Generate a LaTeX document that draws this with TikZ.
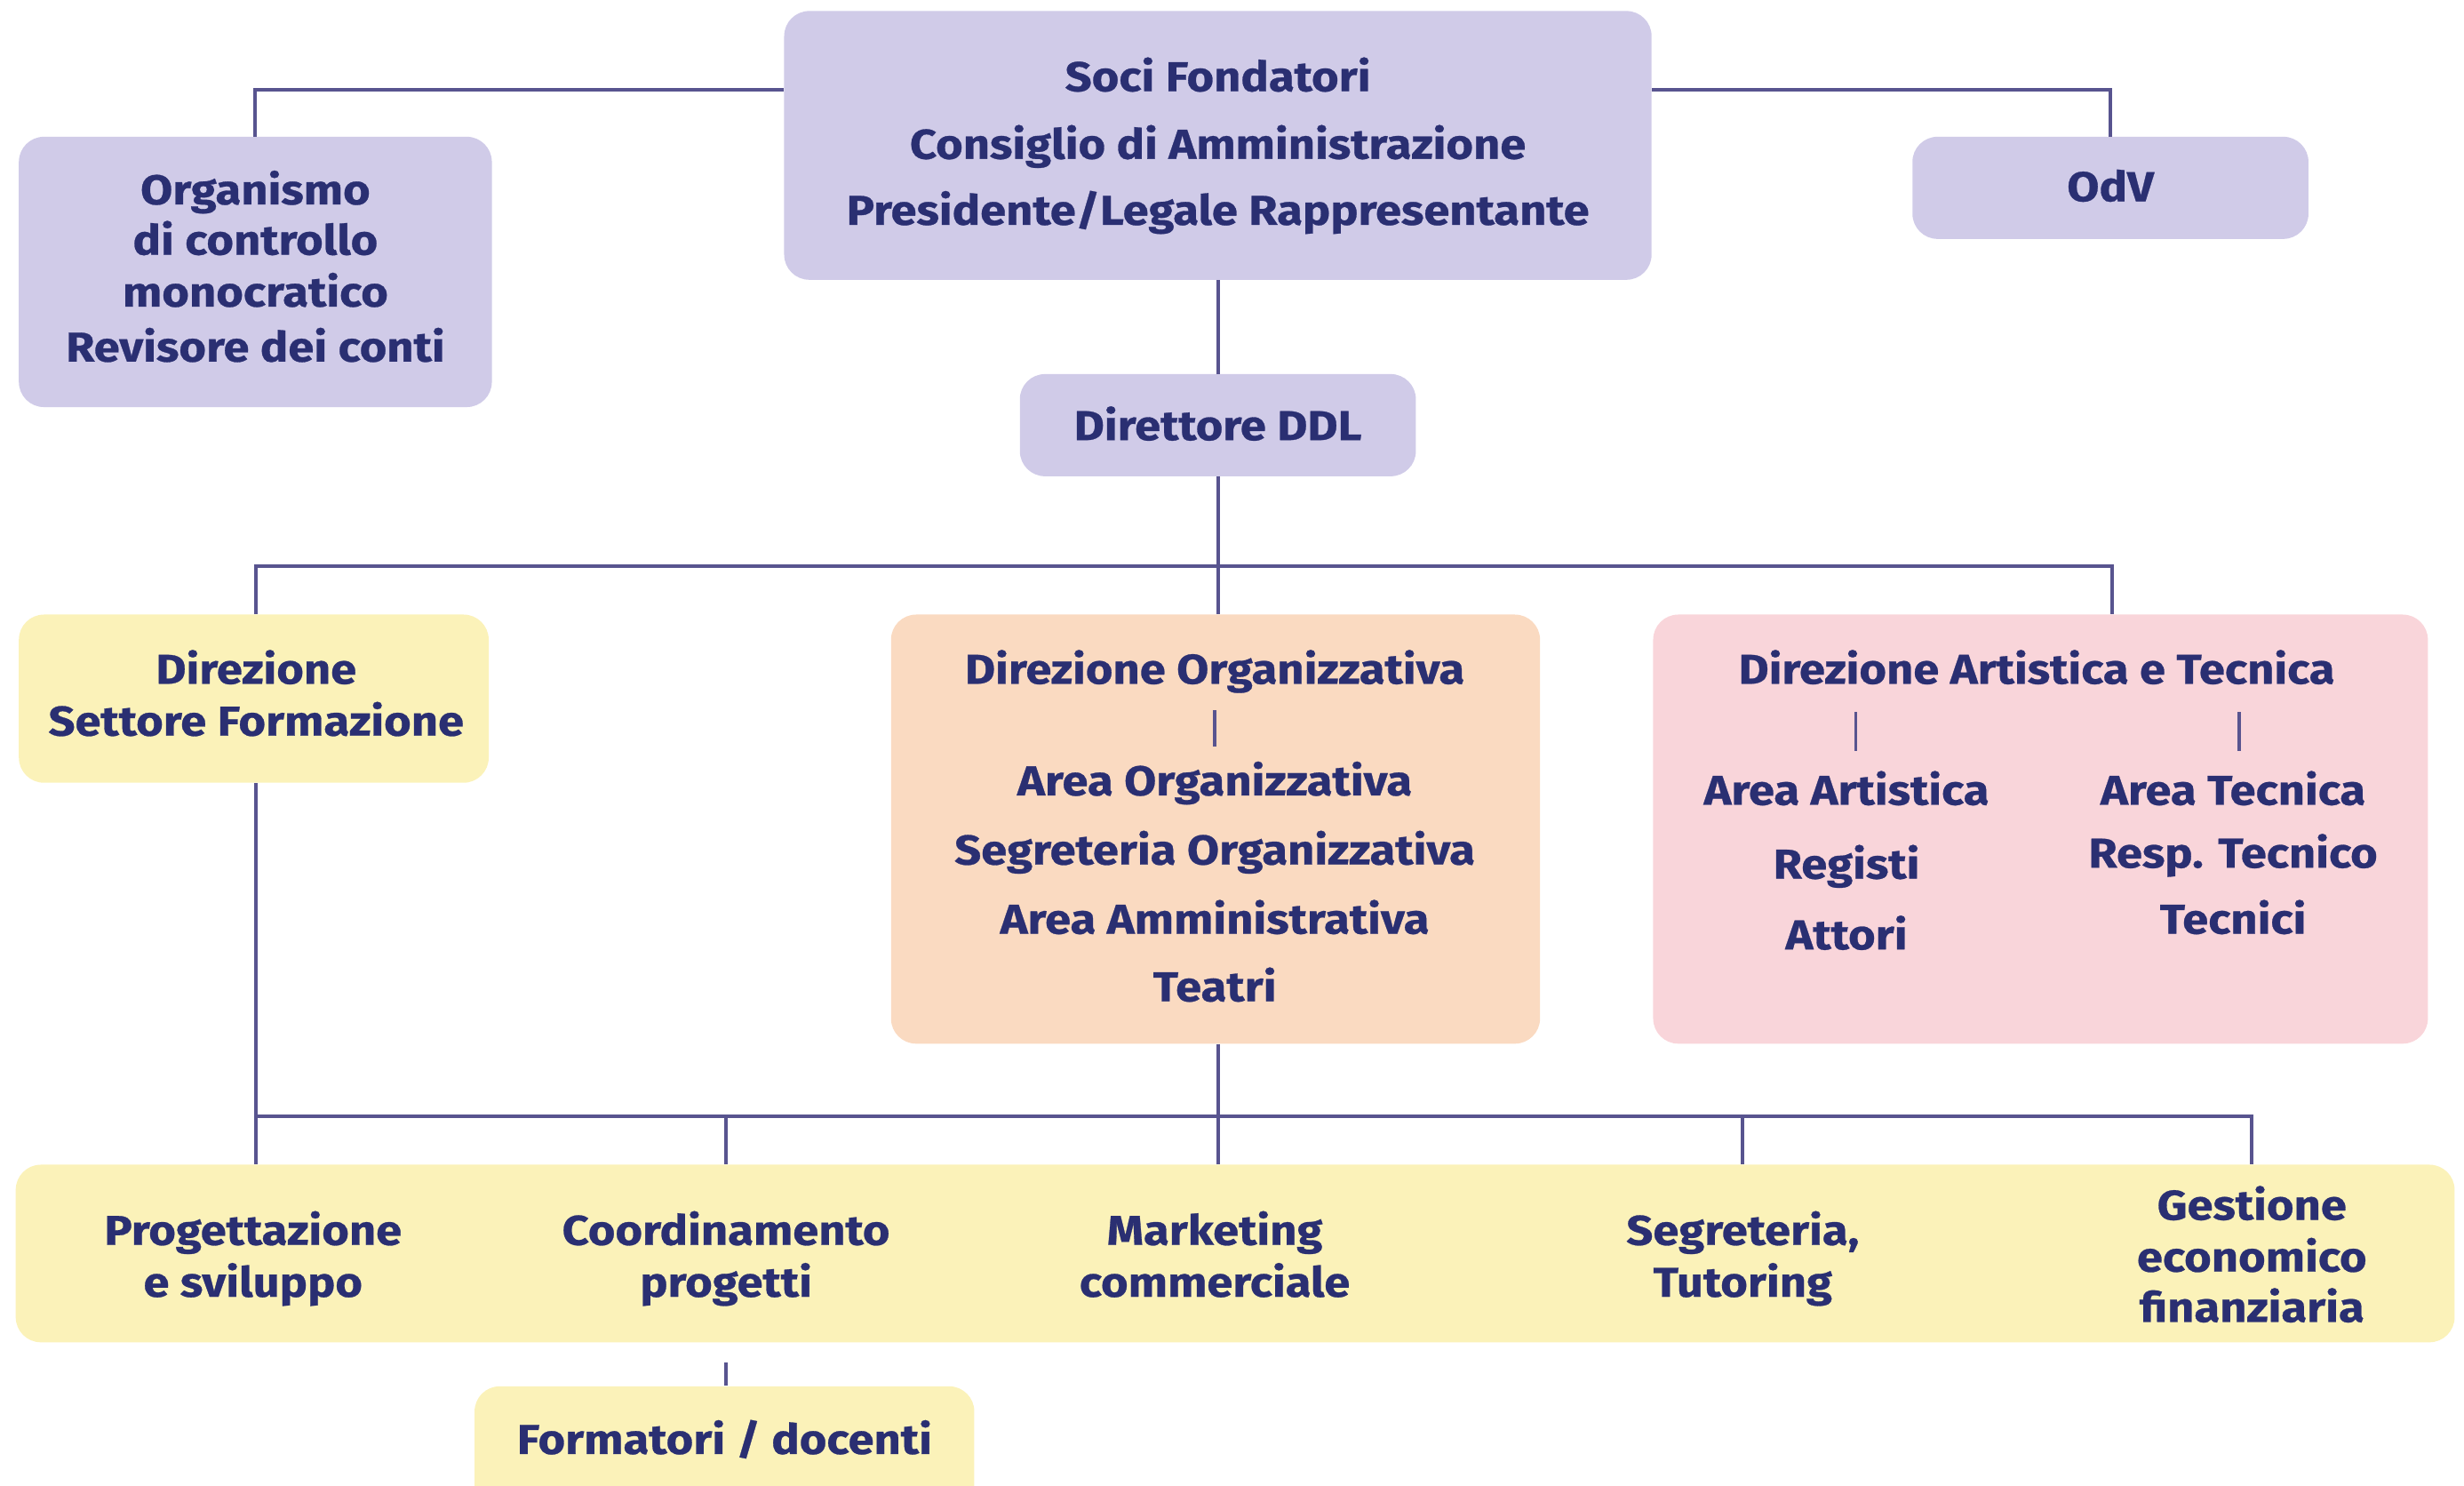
\documentclass[tikz,border=0pt]{standalone}
\usepackage{fontspec}
\setmainfont{Fira Sans}[BoldFeatures={FakeStretch=1.12,FakeBold=0.6}]
\definecolor{lav}{HTML}{D0CBE8}
\definecolor{yel}{HTML}{FBF2B9}
\definecolor{peach}{HTML}{FADAC1}
\definecolor{pinkc}{HTML}{F9D5DA}
\definecolor{navy}{HTML}{2A2F72}
\definecolor{linec}{HTML}{58548F}
\begin{document}
\begin{tikzpicture}[x=1pt,y=-1pt,
  box/.style={rectangle, rounded corners=16pt, draw=none, inner sep=0pt},
  txt/.style={anchor=base, inner sep=0pt, text=navy, font=\fontsize{26.5}{30}\selectfont\bfseries},
  conn/.style={draw=linec, line width=2.3pt},
  tick/.style={draw=linec, line width=2pt}]
\useasboundingbox (0,0) rectangle (1568,945.4);
% boxes
\node[box, fill=lav, minimum width=552pt, minimum height=171pt] (top) at (775,92.5) {};
\node[box, fill=lav, minimum width=301pt, minimum height=172pt] (org) at (162.5,173) {};
\node[box, fill=lav, minimum width=252pt, minimum height=65pt] (odv) at (1343,119.5) {};
\node[box, fill=lav, minimum width=252pt, minimum height=65pt] (ddl) at (775,270.5) {};
\node[box, fill=yel, minimum width=299pt, minimum height=107pt] (sett) at (161.5,444.5) {};
\node[box, fill=peach, minimum width=413pt, minimum height=273pt] (dorg) at (773.5,527.5) {};
\node[box, fill=pinkc, minimum width=493pt, minimum height=273pt] (dart) at (1298.5,527.5) {};
\node[box, fill=yel, minimum width=1552pt, minimum height=113pt] (bot) at (786,797.5) {};
\node[box, fill=yel, minimum width=318pt, minimum height=130pt] (form) at (461,947) {};
% texts
\node[txt] (t1) at (775,58) {Soci Fondatori};
\node[txt] (t2) at (775,101) {Consiglio di Amministrazione};
\node[txt] (t3) at (775,143) {Presidente/Legale Rappresentante};
\node[txt] (o1) at (162.5,130) {Organismo};
\node[txt] (o2) at (162.5,162) {di controllo};
\node[txt] (o3) at (162.5,195) {monocratico};
\node[txt] (o4) at (162.5,230) {Revisore dei conti};
\node[txt] (v1) at (1343,128) {OdV};
\node[txt] (d1) at (775,280) {Direttore DDL};
\node[txt] (s1) at (163,435) {Direzione};
\node[txt] (s2) at (163,468) {Settore Formazione};
\node[txt] (g0) at (773,435) {Direzione Organizzativa};
\node[txt] (g1) at (773,506) {Area Organizzativa};
\node[txt] (g2) at (773,550) {Segreteria Organizzativa};
\node[txt] (g3) at (773,594) {Area Amministrativa};
\node[txt] (g4) at (773,637) {Teatri};
\node[txt] (a0) at (1296,435) {Direzione Artistica e Tecnica};
\node[txt] (a1) at (1175,512) {Area Artistica};
\node[txt] (a2) at (1175,559) {Registi};
\node[txt] (a3) at (1175,604) {Attori};
\node[txt] (r1) at (1421,512) {Area Tecnica};
\node[txt] (r2) at (1421,552) {Resp. Tecnico};
\node[txt] (r3) at (1421,594) {Tecnici};
\node[txt] (p1) at (161,792) {Progettazione};
\node[txt] (p2) at (161,825) {e sviluppo};
\node[txt] (c1) at (462,792) {Coordinamento};
\node[txt] (c2) at (462,825) {progetti};
\node[txt] (m1) at (773,792) {Marketing};
\node[txt] (m2) at (773,825) {commerciale};
\node[txt] (e1) at (1109,792) {Segreteria,};
\node[txt] (e2) at (1109,825) {Tutoring};
\node[txt] (f1) at (1433,776) {Gestione};
\node[txt] (f2) at (1433,809) {economico};
\node[txt] (f3) at (1433,841) {finanziaria};
\node[txt] (fd) at (461,925) {Formatori / docenti};
% coordinates
\coordinate (bus1L) at (163,360);
\coordinate (bus1M) at (775,360);
\coordinate (bus1R) at (1344,360);
\coordinate (bus2L) at (163,710);
\coordinate (bus2R) at (1433,710);
\coordinate (fu) at (462,867);
\coordinate (gt) at (773,452);
\coordinate (gb) at (773,475);
\coordinate (alt) at (1181,453);
\coordinate (alb) at (1181,478);
\coordinate (art) at (1425,453);
\coordinate (arb) at (1425,478);
% connectors
\draw[conn] ([yshift=35.5pt]top.west) -| (org.north);
\draw[conn] ([yshift=35.5pt]top.east) -| (odv.north);
\draw[conn] (top.south) -- (ddl.north);
\draw[conn] (ddl.south) -- (bus1M) -- (bus1M |- dorg.north);
\draw[conn] (bus1L |- sett.north) -- (bus1L) -- (bus1R) -- (bus1R |- dart.north);
\draw[conn] (bus1L |- sett.south) -- (bus1L |- bot.north);
\draw[conn] (bus1M |- dorg.south) -- (bus1M |- bot.north);
\draw[conn] (bus2L) -- (bus2R) -- (bus2R |- bot.north);
\draw[conn] (c1 |- bus2L) -- (c1 |- bot.north);
\draw[conn] (e1 |- bus2L) -- (e1 |- bot.north);
\draw[conn] (fu) -- (fu |- form.north);
\draw[tick] (gt) -- (gb);
\draw[tick] (alt) -- (alb);
\draw[tick] (art) -- (arb);
\end{tikzpicture}
\end{document}
